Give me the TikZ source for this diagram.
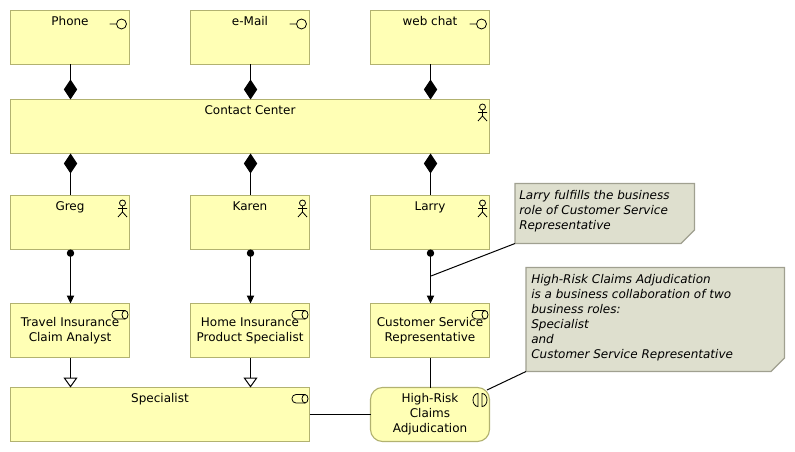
\documentclass[tikz,border=0pt]{standalone}
\usepackage{fontspec}
\setmainfont{DejaVu Sans}
\definecolor{elemfill}{RGB}{255, 255, 181}
\definecolor{elemline}{RGB}{178, 178, 112}
\definecolor{notefill}{RGB}{222, 223, 206}
\definecolor{noteline}{RGB}{160, 160, 144}
\usetikzlibrary{arrows.meta}

\begin{document}
\begin{tikzpicture}[x=0.75pt,y=-0.75pt,>=stealth,font=\fontsize{9pt}{11.25pt}\selectfont,
    elem/.style={draw=elemline,fill=elemfill,line width=0.85pt,minimum height=40.5pt,inner sep=0pt,outer sep=0pt,align=center},
    small/.style={elem,minimum width=89.25pt},
    toptext/.style={text height=11.5pt,text depth=29pt},
    lowtext/.style={execute at begin node=\rule{0pt}{9pt}},
    link/.style={draw=black,line width=0.75pt},
    comp/.style={link,{Diamond[length=15pt,width=10pt,fill=black]}-},
    compend/.style={link,-{Diamond[length=15pt,width=10pt,fill=black]}},
    serves/.style={link,{Circle[length=5.5pt,fill=black]}-{Triangle[length=6pt,width=5.5pt,fill=black]}},
    spec/.style={link,-{Triangle[length=7.5pt,width=10.5pt,fill=white]}},
    icon/.style={line width=0.6pt,draw=black},
    notebox/.style={draw=noteline,fill=notefill,line width=0.85pt},
    notetext/.style={font=\fontsize{9pt}{11.25pt}\selectfont\itshape,align=left,inner sep=0pt,anchor=north west},
    interfaceicon/.pic={\draw[icon] (-8,13.5) circle (5) (-13,13.5) -- (-20,13.5);},
    actoricon/.pic={\draw[icon] (-7,7.5) circle (3) (-7,10.5) -- (-7,16.5) -- (-11.5,21.5) (-7,16.5) -- (-2.5,21.5) (-11.5,13) -- (-2.5,13);},
    roleicon/.pic={\draw[icon,rounded corners=3pt] (-4.5,7) -- (-17.5,7) -- (-17.5,15.5) -- (-4.5,15.5);
      \draw[icon] (-4.5,11.25) ellipse (3 and 4.25);},
    collabicon/.pic={\draw[icon] (-11.5,6) arc[start angle=-90,end angle=-270,x radius=5,y radius=6.5] -- cycle
      (-7.5,6) arc[start angle=-90,end angle=90,x radius=5,y radius=6.5] -- cycle;}]
  \useasboundingbox (0,0) rectangle (795,452);

  % channels
  \node[small,toptext] (phone) at (70,37.5) {Phone};
  \node[small,toptext] (email) at (250,37.5) {e-Mail};
  \node[small,toptext] (webchat) at (430,37.5) {web chat};
  \node[elem,toptext,minimum width=359.25pt] (center) at (250,126.5) {Contact Center};

  % actors
  \node[small,toptext] (greg) at (70,222.5) {Greg};
  \node[small,toptext] (karen) at (250,222.5) {Karen};
  \node[small,toptext] (larry) at (430,222.5) {Larry};

  % roles
  \node[small,lowtext] (travel) at (70,330.5) {Travel Insurance\\Claim Analyst};
  \node[small,lowtext] (home) at (250,330.5) {Home Insurance\\Product Specialist};
  \node[small,lowtext] (service) at (430,330.5) {Customer Service\\Representative};
  \node[elem,toptext,minimum width=224.25pt] (specialist) at (160,414.5) {Specialist};
  \node[small,rounded corners=9pt] (claims) at (430,414.5) {High-Risk\\Claims\\Adjudication};

  \pic at (phone.north east) {interfaceicon};
  \pic at (email.north east) {interfaceicon};
  \pic at (webchat.north east) {interfaceicon};
  \pic at (center.north east) {actoricon};
  \pic at (greg.north east) {actoricon};
  \pic at (karen.north east) {actoricon};
  \pic at (larry.north east) {actoricon};
  \pic at (travel.north east) {roleicon};
  \pic at (home.north east) {roleicon};
  \pic at (service.north east) {roleicon};
  \pic at (specialist.north east) {roleicon};
  \pic at (claims.north east) {collabicon};

  % notes
  \draw[notebox] (515,183.5) -- (694.5,183.5) -- (694.5,230) -- (681,243.5) -- (515,243.5) coordinate (larrycorner) -- cycle;
  \node[notetext] (larrynote) at (519,190.5) {Larry fulfills the business\\role of Customer Service\\Representative};
  \draw[notebox] (526,267.5) -- (784.5,267.5) -- (784.5,358) -- (771,371.5) -- (526,371.5) coordinate (claimscorner) -- cycle;
  \node[notetext] (claimsnote) at (531,274.3) {High-Risk Claims Adjudication\\is a business collaboration of two\\business roles:\\Specialist\\and\\Customer Service Representative};

  \coordinate (larryend) at (431,276);
  \coordinate (claimsend) at (487,390);

  % connectors
  \draw[compend] ([xshift=0.375pt]phone.south) -- ([xshift=0.375pt]phone.south |- center.north);
  \draw[compend] ([xshift=0.375pt]email.south) -- ([xshift=0.375pt]email.south |- center.north);
  \draw[compend] ([xshift=0.375pt]webchat.south) -- ([xshift=0.375pt]webchat.south |- center.north);
  \draw[comp] ([xshift=0.375pt]greg.north |- center.south) -- ([xshift=0.375pt]greg.north);
  \draw[comp] ([xshift=0.375pt]karen.north |- center.south) -- ([xshift=0.375pt]karen.north);
  \draw[comp] ([xshift=0.375pt]larry.north |- center.south) -- ([xshift=0.375pt]larry.north);
  \draw[serves] ([xshift=0.375pt]greg.south) -- ([xshift=0.375pt]travel.north);
  \draw[serves] ([xshift=0.375pt]karen.south) -- ([xshift=0.375pt]home.north);
  \draw[serves] ([xshift=0.375pt]larry.south) -- ([xshift=0.375pt]service.north);
  \draw[spec] ([xshift=0.375pt]travel.south) -- ([xshift=0.375pt]travel.south |- specialist.north);
  \draw[spec] ([xshift=0.375pt]home.south) -- ([xshift=0.375pt]home.south |- specialist.north);
  \draw[link] ([xshift=0.375pt]service.south) -- ([xshift=0.375pt]claims.north);
  \draw[link] (specialist) -- (claims);
  \draw[link] (larrycorner) -- (larryend);
  \draw[link] (claimscorner) -- (claimsend);
\end{tikzpicture}
\end{document}
